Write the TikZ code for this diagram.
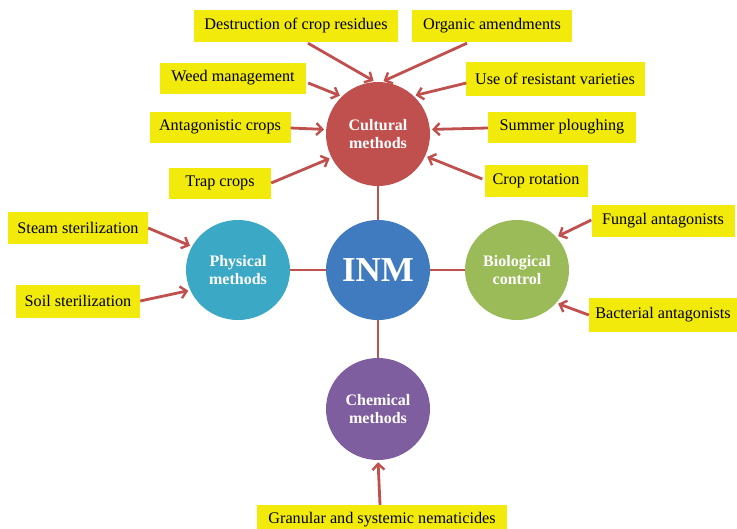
\documentclass[tikz,border=0pt]{standalone}
\usepackage{fontspec}
\setmainfont{Liberation Serif}
\usetikzlibrary{arrows.meta,shapes.geometric,calc}
\definecolor{cred}{HTML}{C0504D}
\definecolor{cblue}{HTML}{3F7BBE}
\definecolor{ccyan}{HTML}{3BA9C5}
\definecolor{cgreen}{HTML}{9BBB59}
\definecolor{cpurple}{HTML}{7F5EA0}
\definecolor{cyel}{HTML}{F2EA0A}
\definecolor{carr}{HTML}{C0504D}
\tikzset{
  lbl/.style={fill=cyel, minimum height=32pt, inner sep=0pt, font=\fontsize{16.2}{18}\selectfont},
  meth/.style={ellipse, minimum width=104pt, minimum height=104pt, inner sep=0pt, text=white, align=center, font=\bfseries\fontsize{16}{18}\selectfont},
  arr/.style={draw=carr, line width=2.8pt, -{Straight Barb[length=6pt,width=12pt,line width=2.4pt]}, shorten >=2pt},
  link/.style={draw=carr, line width=2.8pt}
}
\begin{document}
\begin{tikzpicture}[x=1pt,y=-1pt]
\useasboundingbox (0,0) rectangle (737,528);
% methods
\node[meth, fill=cred] (cult) at (378,134) {Cultural\\methods};
\node[meth, fill=cblue, minimum height=100pt, font=\bfseries\fontsize{35}{36}\selectfont] (inm) at (378,270) {INM};
\node[meth, fill=ccyan, minimum height=100pt] (phys) at (238,270) {Physical\\methods};
\node[meth, fill=cgreen, minimum height=100pt] (bio) at (517,270) {Biological\\control};
\node[meth, fill=cpurple, minimum height=102pt] (chem) at (378,409) {Chemical\\methods};
% labels
\node[lbl, minimum width=204pt] (destr) at (296,26) {Destruction of crop residues};
\node[lbl, minimum width=160pt] (org) at (492,26) {Organic amendments};
\node[lbl, minimum width=146pt, minimum height=31pt] (weed) at (233,78) {Weed management};
\node[lbl, minimum width=179pt, minimum height=34pt] (res) at (555,79) {Use of resistant varieties};
\node[lbl, minimum width=141pt, minimum height=31pt] (anta) at (220,127) {Antagonistic crops};
\node[lbl, minimum width=148pt, minimum height=31pt] (summ) at (562,127) {Summer ploughing};
\node[lbl, minimum width=102pt, minimum height=31pt] (trap) at (220,183) {Trap crops};
\node[lbl, minimum width=103pt] (rot) at (536,181) {Crop rotation};
\node[lbl, minimum width=140pt] (steam) at (78,228) {Steam sterilization};
\node[lbl, minimum width=124pt, minimum height=33pt] (soil) at (78,301) {Soil sterilization};
\node[lbl, minimum width=143pt] (fung) at (663,221) {Fungal antagonists};
\node[lbl, minimum width=148pt, minimum height=34pt] (bact) at (663,315) {Bacterial antagonists};
\node[lbl, minimum width=250pt, minimum height=30pt] (gran) at (382,520) {Granular and systemic nematicides};
% links
\draw[link] (cult) -- (inm);
\draw[link] (inm) -- (phys);
\draw[link] (inm) -- (bio);
\draw[link] (inm) -- (chem);
% arrows
\draw[arr] ($(destr.south)+(12,1)$) -- (cult.93);
\draw[arr] ($(org.south)+(-25,1)$) -- (cult.86);
\draw[arr] ($(weed.east)+(2,5)$) -- (cult.134);
\draw[arr] ($(res.west)+(1,4)$) -- (cult.47);
\draw[arr] ($(anta.east)+(0,1)$) -- (cult.175);
\draw[arr] ($(summ.west)+(0,1)$) -- (cult.5);
\draw[arr] (trap.east) -- (cult.207);
\draw[arr] ($(rot.west)+(-2,-2)$) -- (cult.335);
\draw[arr] (steam.east) -- (phys.153);
\draw[arr] (soil.east) -- (phys.203);
\draw[arr] ($(fung.west)+(0,-1)$) -- (bio.40);
\draw[arr] (bact.west) -- (bio.320);
\draw[arr] ($(gran.north)+(-2,0)$) -- (chem.south);
\end{tikzpicture}
\end{document}
